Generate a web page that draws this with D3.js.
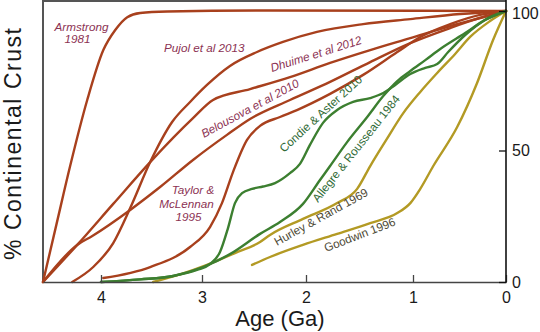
<!DOCTYPE html>
<html><head><meta charset="utf-8">
<script src="https://cdn.jsdelivr.net/npm/d3@7"></script>
<style>
html,body{margin:0;padding:0;background:#fff;}
svg{display:block;font-family:"Liberation Sans",Arial,Helvetica,sans-serif;}
</style></head><body>
<svg id="chart" width="540" height="332"></svg>
<script>
// ---- data (age in Ga, % continental crust) ----
const ageTicks = [4, 3, 2, 1, 0];
const pctTicks = [0, 50, 100];

const armstrong1981 = [[4.56,0],[4.429,22.1],[4.298,44.1],[4.133,68.1],[3.977,86.0],[3.859,93.2],[3.740,97.8],[3.612,99.3],[3.345,99.8],[2.346,100.2],[0,100]];
const pujol2013 = [[4.278,0],[4.075,5.7],[3.879,14.8],[3.711,28.1],[3.513,45.6],[3.296,60.2],[3.118,67.4],[2.952,73.5],[2.731,80.3],[2.471,85.3],[2.221,88.9],[1.897,92.5],[1.466,95.3],[1.025,97.1],[0.493,98.9],[0,100]];
const dhuime2012 = [[4.56,0],[4.230,14.1],[3.879,29.7],[3.513,45.6],[3.089,61.6],[2.894,68.1],[2.538,72.0],[2.154,76.3],[1.775,81.4],[1.400,86.0],[1.025,90.3],[0.600,94.6],[0.279,97.5],[0,100]];
const belousova2010 = [[4.56,0],[4.230,14.1],[4.084,17.5],[3.711,27.4],[3.415,36.1],[3.089,46.4],[2.760,55.6],[2.538,61.3],[2.154,68.1],[1.775,74.6],[1.400,81.7],[1.025,88.5],[0.600,93.9],[0.279,97.5],[0,100]];
const taylor1995 = [[3.977,1.5],[3.513,5.7],[3.118,13.3],[2.923,20.9],[2.808,30.0],[2.702,41.8],[2.567,53.8],[2.442,58.8],[2.250,62.0],[2.087,64.5],[1.775,70.3],[1.466,77.1],[1.147,85.3],[0.922,90.7],[0.600,95.3],[0.279,98.6],[0,100]];
const condie2010 = [[4.0,0],[3.612,1.0],[3.286,2.3],[3.049,4.6],[2.923,6.8],[2.827,11.4],[2.750,20.5],[2.683,30.0],[2.615,33.8],[2.519,35.4],[2.413,36.3],[2.298,37.6],[2.154,41.4],[2.058,44.9],[1.963,52.0],[1.841,59.9],[1.709,64.5],[1.560,67.4],[1.400,68.8],[1.278,70.6],[1.166,73.5],[1.025,77.4],[0.868,79.6],[0.740,81.0],[0.622,85.3],[0.439,91.4],[0.225,96.8],[0,100]];
const allegre1984 = [[4.0,0],[3.612,1.0],[3.286,2.3],[2.990,5.7],[2.731,10.6],[2.442,18.3],[2.250,22.8],[2.029,29.7],[1.869,38.8],[1.775,44.1],[1.616,53.0],[1.428,62.0],[1.278,69.5],[1.147,74.9],[1.025,78.5],[0.868,82.4],[0.707,86.4],[0.439,92.1],[0.225,96.8],[0,100]];
const hurley1969 = [[3.484,0],[3.217,2.9],[2.952,6.5],[2.683,11.0],[2.442,15.2],[2.346,17.9],[2.029,24.0],[1.709,30.0],[1.522,35.4],[1.400,44.1],[1.250,53.8],[1.091,63.4],[0.922,71.0],[0.740,77.8],[0.547,84.6],[0.386,90.7],[0.171,96.4],[0,100]];
const goodwin1996 = [[2.519,6.5],[2.346,9.5],[2.029,14.1],[1.709,18.3],[1.400,22.4],[1.147,26.2],[1.025,30.0],[0.922,35.4],[0.782,44.1],[0.525,58.4],[0.311,74.2],[0.139,89.6],[0,100]];

const series = [
  {name:"Armstrong 1981", data:armstrong1981, group:"red"},
  {name:"Pujol et al 2013", data:pujol2013, group:"red"},
  {name:"Dhuime et al 2012", data:dhuime2012, group:"red"},
  {name:"Belousova et al 2010", data:belousova2010, group:"red"},
  {name:"Taylor & McLennan 1995", data:taylor1995, group:"red"},
  {name:"Hurley & Rand 1969", data:hurley1969, group:"olive"},
  {name:"Goodwin 1996", data:goodwin1996, group:"olive"},
  {name:"Allegre & Rousseau 1984", data:allegre1984, group:"green"},
  {name:"Condie & Aster 2010", data:condie2010, group:"green"}
];

// ---- styling / layout ----
const lineColor = {red:"#a8401d", green:"#3c7f30", olive:"#b39a24"};
const textColor = {red:"#8c3253", green:"#2f6a35", olive:"#4e4a35"};

const annotations = [
  {text:"Armstrong", x:81.5, y:31, rot:0, anchor:"middle", g:"red"},
  {text:"1981", x:77.5, y:43, rot:0, anchor:"middle", g:"red"},
  {text:"Pujol et al 2013", x:164, y:52, rot:0, anchor:"start", g:"red"},
  {text:"Dhuime et al 2012", x:272, y:72, rot:-17.5, anchor:"start", g:"red"},
  {text:"Belousova et al 2010", x:204, y:138, rot:-28.5, anchor:"start", g:"red"},
  {text:"Taylor &", x:193, y:194, rot:0, anchor:"middle", g:"red"},
  {text:"McLennan", x:186.5, y:208, rot:0, anchor:"middle", g:"red"},
  {text:"1995", x:188.5, y:221, rot:0, anchor:"middle", g:"red"},
  {text:"Condie & Aster 2010", x:284, y:153, rot:-42.5, anchor:"start", g:"green"},
  {text:"Allegre & Rousseau 1984", x:318, y:203, rot:-51.5, anchor:"start", g:"green"},
  {text:"Hurley & Rand 1969", x:277, y:246, rot:-29, anchor:"start", g:"olive"},
  {text:"Goodwin 1996", x:326, y:252, rot:-21, anchor:"start", g:"olive"}
];

const svg = d3.select("#chart");
const x = d3.scaleLinear().domain([4.56, 4, 3, 2, 1, 0]).range([43, 101, 202, 306, 413, 506]);
const y = d3.scaleLinear().domain([0, 50, 100]).range([282, 150.5, 11]);

// frame (left + top)
svg.append("path")
  .attr("d", `M${x(4.56)},${y(0)}V1H${x(0)}`)
  .attr("fill","none").attr("stroke","#555").attr("stroke-width",2);

// curves
const line = d3.line().x(d=>x(d[0])).y(d=>y(d[1])).curve(d3.curveMonotoneX);
svg.append("g").selectAll("path").data(series).join("path")
  .attr("d", d=>line(d.data))
  .attr("fill","none")
  .attr("stroke", d=>lineColor[d.group])
  .attr("stroke-width",2.4)
  .attr("stroke-linejoin","round")
  .attr("stroke-linecap","round");

// bottom axis
const gx = svg.append("g").attr("transform",`translate(0,${y(0)})`)
  .call(d3.axisBottom(x).tickValues(ageTicks).tickFormat(d3.format("d"))
        .tickSizeInner(-7).tickSizeOuter(0).tickPadding(10));
gx.select(".domain").attr("stroke","#444").attr("stroke-width",1.6);
gx.selectAll(".tick line").attr("stroke","#444").attr("stroke-width",1.3);
gx.selectAll(".tick text").attr("font-size",16).attr("fill","#1a1a1a").attr("font-family","Liberation Sans, Arial, sans-serif");

// right axis
const gy = svg.append("g").attr("transform",`translate(${x(0)},0)`)
  .call(d3.axisRight(y).tickValues(pctTicks).tickFormat(d3.format("d"))
        .tickSizeInner(-7).tickSizeOuter(0).tickPadding(6));
gy.select(".domain").remove();
gy.selectAll(".tick line").attr("stroke","#111").attr("stroke-width",1.3);
gy.selectAll(".tick text").attr("font-size",16).attr("fill","#1a1a1a").attr("font-family","Liberation Sans, Arial, sans-serif")
  .attr("dy", d => d === 100 ? "0.47em" : "0.32em");
svg.append("line").attr("x1",x(0)).attr("x2",x(0)).attr("y1",0).attr("y2",y(0)+0.8)
  .attr("stroke","#111").attr("stroke-width",1.6);

// axis titles
svg.append("text").attr("x",280).attr("y",326).attr("text-anchor","middle")
  .attr("font-size",22).attr("fill","#1a1a1a").text("Age (Ga)");
svg.append("text").attr("transform","translate(21,144) rotate(-90)")
  .attr("text-anchor","middle").attr("font-size",23).attr("fill","#1a1a1a")
  .attr("textLength",232).attr("lengthAdjust","spacing")
  .text("% Continental Crust");

// curve labels
svg.append("g").selectAll("text").data(annotations).join("text")
  .attr("transform", d=>`translate(${d.x},${d.y}) rotate(${d.rot})`)
  .attr("text-anchor", d=>d.anchor)
  .attr("font-size", 11.7)
  .attr("font-style", d=>d.g==="red" ? "italic" : "normal")
  .attr("fill", d=>textColor[d.g])
  .text(d=>d.text);
</script>
</body></html>
